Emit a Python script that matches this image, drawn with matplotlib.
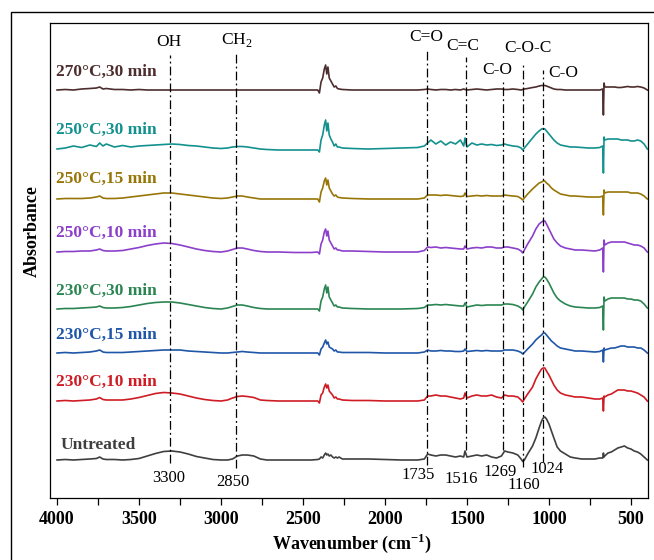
#!/usr/bin/env python3
import numpy as np
import matplotlib
matplotlib.use("Agg")
import matplotlib.pyplot as plt
from matplotlib.patches import Rectangle
from matplotlib.ticker import MultipleLocator

plt.rcParams['font.family'] = ['Liberation Serif', 'DejaVu Serif']
plt.rcParams['mathtext.fontset'] = 'custom'
plt.rcParams['mathtext.rm'] = 'Liberation Serif'
plt.rcParams['mathtext.bf'] = 'Liberation Serif:bold'

# wavenumber grid (cm-1)
wavenumber = [
    4000, 3950, 3900, 3850, 3800, 3760, 3740, 3720, 3700, 3650,
    3600, 3550, 3500, 3450, 3400, 3350, 3300, 3250, 3200, 3150,
    3100, 3050, 3000, 2960, 2930, 2900, 2870, 2840, 2800, 2760,
    2720, 2650, 2550, 2450, 2410, 2400, 2390, 2380, 2370, 2362,
    2355, 2348, 2340, 2330, 2320, 2310, 2300, 2290, 2280, 2260,
    2200, 2100, 2000, 1900, 1800, 1760, 1740, 1720, 1690, 1660,
    1630, 1600, 1570, 1540, 1520, 1512, 1500, 1470, 1440, 1410,
    1380, 1350, 1320, 1290, 1270, 1250, 1220, 1190, 1170, 1160,
    1150, 1130, 1100, 1080, 1060, 1045, 1035, 1025, 1015, 1000,
    985, 970, 950, 930, 900, 870, 840, 800, 760, 720,
    690, 672, 668, 664, 660, 640, 620, 600, 580, 560,
    540, 520, 500, 480, 460, 440, 420, 400,
]

# absorbance (a.u.), each relative to its own baseline
untreated = [
    0, 0.5, 0, 0.5, 1, 1.5, 3, 1, 0.5, 0.5,
    0, 0.5, 1.5, 4, 6.5, 8.5, 9, 8, 6, 3.5,
    2, 0.5, 0, 0, 1, 4, 5, 5, 4, 1,
    0, 0, 0, 0, 0.5, 1, 3, 2, 5, 7,
    5, 6, 4, 5, 3, 2, 3, 2, 3, 1,
    1, 1, 0.5, 0, 0, 1, 6, 5, 4, 5,
    5, 4, 3, 4, 3, 9, 3, 4, 5, 4,
    5, 3, 2, 4, 9, 8, 7, 5, 1, -1.5,
    0, 6, 14, 22, 32, 39, 42, 43, 41, 36,
    29, 22, 13, 9, 6, 3, 2, 1, 1, 1,
    2, 2, 7, 3, 4, 7, 8, 10, 12, 13,
    14, 12, 11, 9, 8, 6, 3, 0,
]
t230_10 = [
    0, 0.5, 0, 0.5, 1, 2, 3.5, 1.5, 1, 1,
    1, 2, 3.5, 5.5, 7.5, 8.5, 8, 7, 5, 3,
    1.5, 0.5, 0, 1, 3, 4.5, 5, 4.5, 3.5, 1,
    0.5, 0, 0, 0, 0, -2, 6, 8, 14, 17,
    13, 16, 10, 8, 6, 3, 4, 2, 2, 1,
    0.5, 0.5, 0, 0, 0, 1, 5, 5, 6, 5,
    5, 4, 3, 2, 3, 8, 3, 5, 6, 5,
    5, 6, 4, 3, 6, 5, 5, 4, 1, -1,
    2, 7, 14, 22, 28, 32, 33, 33, 30, 26,
    21, 16, 11, 8, 6, 5, 4, 4, 3, 2,
    2, 3, -10, 5, 4, 6, 7, 9, 11, 11,
    11, 10, 10, 9, 8, 6, 4, 0,
]
t230_15 = [
    0, 0.5, 0, 0.5, 1, 2, 3, 1, 0.5, 0.5,
    0.5, 1, 1.5, 2, 2.5, 3, 3, 3, 2, 1.5,
    1, 0.5, 0, 0, 0.5, 1, 1.5, 1, 0.5, 0,
    0, 0, 0, 0, 0, -2, 4, 6, 10, 13,
    9, 11, 6, 5, 4, 2, 3, 1, 1, 0.5,
    0.5, 0.5, 0, 0, 0, 1, 3, 2, 2, 2.5,
    2, 2, 1.5, 1.5, 2, 4, 1.5, 2, 2.5, 2,
    2.5, 2, 2, 2, 3, 3, 3, 2, 0.5, -1,
    0.5, 4, 9, 13, 16, 18, 20, 20, 18, 15,
    12, 10, 7, 5, 4, 3, 2, 2, 1.5, 1,
    1.5, 3, -9, 5, 3, 4, 5, 5, 6, 7,
    7, 6, 6, 6, 5, 5, 3, 0,
]
t230_30 = [
    0, 0.5, 0.5, 1, 1.5, 2, 3, 1.5, 1, 1,
    1.5, 2.5, 4, 5.5, 6.5, 7, 7, 6, 4.5, 3,
    1.5, 0.5, 0, 1, 2.5, 4, 4, 3, 1.5, 0.5,
    0, 0, 0, 0, 0, -2, 8, 12, 20, 24,
    16, 22, 12, 9, 6, 3, 4, 2, 2, 1,
    0.5, 0, 0, 0, 0.5, 1.5, 4, 4, 4.5, 4,
    4.5, 4, 3.5, 3, 3, 6, 2, 3, 4, 3.5,
    4, 4, 4, 4, 5, 5, 4.5, 3, 1, -1,
    2, 7, 15, 22, 27, 30, 32, 32, 30, 26,
    21, 16, 11, 8, 5, 3, 2, 1.5, 1, 1,
    1.5, 3, -21, 12, 8, 10, 11, 11, 11, 11,
    11, 10, 10, 9, 9, 8, 5, 1,
]
t250_10 = [
    0, 0.5, 0.5, 1, 1, 2, 3, 1.5, 1, 1,
    1.5, 3, 4.5, 6.5, 8, 9, 8.5, 7, 5, 3,
    1.5, 0.5, 0, 1, 2.5, 4, 4, 3, 1.5, 0.5,
    0, 0, -0.5, -0.5, 0, -2, 8, 12, 20, 23,
    16, 21, 12, 9, 6, 3, 4, 2, 2, 1,
    1, 0.5, 0, 0, 0, 1.5, 5, 4.5, 5, 4,
    4.5, 4, 3.5, 3, 3, 6, 3, 4, 4.5, 4,
    5, 5, 4, 4, 5, 5, 4, 3, 1, -1,
    2, 8, 16, 23, 28, 30, 31, 31, 28, 23,
    18, 13, 9, 6, 4, 3, 2, 2, 1.5, 1,
    2, 4, -20, 12, 7, 9, 10, 10, 10, 10,
    10, 9, 8, 7, 7, 6, 4, 0,
]
t250_15 = [
    0, 0.5, 0.5, 0.5, 1, 2, 3, 1, 0.5, 0.5,
    1, 2, 3, 4, 5, 6, 6, 5, 4, 3,
    2, 1, 0.5, 1, 2, 3, 3, 2, 1, 0,
    0, 0, 0, 0, 0, -3, 7, 11, 18, 21,
    14, 19, 11, 8, 5, 3, 4, 2, 1.5, 1,
    0.5, 0, 0, 0, 0, 1, 4, 4, 4, 3.5,
    4, 3.5, 3, 2.5, 3, 6, 2.5, 3, 3.5, 3,
    3.5, 3, 3, 3, 4, 3.5, 3, 2.5, 0.5, -1,
    1, 5, 10, 13, 16, 17, 18, 18, 16, 14,
    11, 9, 7, 5, 4, 3, 3, 2.5, 2, 2,
    2, 3, -16, 9, 6, 7, 7, 7, 7, 7,
    7, 7, 6, 6, 6, 5, 3, 0,
]
t250_30 = [
    0, 1, 3, 1.5, 4, 2.5, 6, 3, 5, 2,
    3.5, 2, 3, 3.5, 4, 4.5, 5, 4.5, 3.5, 3,
    2, 1, 0.5, 1, 2, 2.5, 2.5, 2, 1, 0,
    -0.5, -1, -1, -1, -1, -3, 9, 14, 24, 29,
    18, 26, 14, 10, 7, 3, 5, 2, 2, 1,
    0.5, 0, 0.5, 1, 1.5, 3, 6, 9, 5, 8,
    4, 7, 5, 9, 3, 11, 2, 6, 4, 5,
    4, 4.5, 3.5, 4, 5, 4, 3, 2.5, 1, -1,
    1, 5, 11, 15, 18, 20, 20.5, 20, 18, 15,
    12, 9, 6, 4, 3, 2, 2, 1.5, 1, 1,
    1.5, 3, -24, 12, 9, 10, 10, 10, 10, 9,
    9, 9, 8, 8, 9, 8, 5, 0,
]
t270_30 = [
    0, 0.5, 0, 1, 1.5, 2, 3, 1, 1.5, 0.5,
    0.5, 0, 0.5, 0, 0, 0, 0, 0, 0, 0,
    0, 0, 0, 0, 0, 0, 0, 0, 0, 0,
    0, 0, 0, 0, 0, -3, 8, 12, 21, 25,
    16, 23, 12, 9, 6, 3, 4, 1.5, 1, 0.5,
    0, 0, 0, 0, 0, 0.5, 1, 0.5, 0, 0.5,
    0.5, 0, 0.5, 0, 1, 0.5, 0, 0.5, 1, 0.5,
    0, 0.5, 1, 1, 0.5, 0.5, 1, 0.5, 0, 0.5,
    1, 1.5, 2.5, 3, 4, 4.5, 4.5, 4.5, 4, 3,
    2, 1, 0.5, 0.5, 0, 0, 0, 0, 0, 0,
    0, 1, -25, 7, 3, 3, 3, 3, 2.5, 2.5,
    3, 3.5, 3, 3, 3.5, 3, 2, 0,
]

labels = ['Untreated', '230°C,10 min', '230°C,15 min', '230°C,30 min',
          '250°C,10 min', '250°C,15 min', '250°C,30 min', '270°C,30 min']
spectra = [untreated, t230_10, t230_15, t230_30, t250_10, t250_15, t250_30, t270_30]

# band assignments: (drawn position, label, number)
band_pos = [3311, 2909, 1744, 1506, 1280, 1159, 1037]
band_names = ['OH', 'CH$_{2}$', 'C=O', 'C=C', 'C-O', 'C-O-C', 'C-O']
band_nums = ['3300', '2850', '1735', '1516', '1269', '1160', '1024']

# layout (stack offsets, colours, label positions)
offsets = [38, 97, 145, 189, 246, 299, 349, 408]
colors = ['#3f3f3f', '#cf1c24', '#1f56a8', '#2b8552', '#8b3fca', '#977607', '#13918e', '#4d2d2d']
label_y = [49, 112, 159, 203, 261, 315, 364, 422]
label_x = [3976, 4006, 4006, 4006, 4006, 4006, 4006, 4006]

line_bot = [35, 30, 33, 48, 48, 31, 36]
line_top = [443, 446, 449, 441, 416, 436, 428]
name_xy = [(3315, 456, 'center'), (2905, 458, 'center'), (1750, 461, 'center'),
           (1524, 452, 'center'), (1317, 428, 'center'), (1128, 450, 'center'),
           (1006, 425, 'left')]
num_xy = [(3317, 20), (2930, 16), (1799, 23), (1537, 19), (1299, 26), (1152, 13), (1012, 29)]

fig = plt.figure(figsize=(6.54, 5.6), dpi=100)
ax = fig.add_axes([50 / 654, 1 - 498 / 560, 598 / 654, 475 / 560])

# outer frame
fig.patches.append(Rectangle((11 / 654, -0.2), 1.2, 1.2 - 12 / 560,
                             transform=fig.transFigure, fill=False,
                             edgecolor='black', linewidth=1.0))

W = np.array(wavenumber)
for vals, off, c in zip(spectra, offsets, colors):
    ax.plot(W, np.array(vals) + off, color=c, lw=1.2, solid_joinstyle='round')

for lab, c, x, y in zip(labels, colors, label_x, label_y):
    ax.text(x, y, lab, color=c, fontsize=12.5, fontweight='bold',
            ha='left', va='baseline')

for p, b, t in zip(band_pos, line_bot, line_top):
    ax.plot([p, p], [b, t], color='black', lw=0.9,
            linestyle=(0, (7, 2.5, 1.5, 2.5)))

for (x, y, ha), nm in zip(name_xy, band_names):
    ax.text(x, y, nm, fontsize=12.5, ha=ha, va='center')
for (x, y), nm in zip(num_xy, band_nums):
    ax.text(x, y, nm, fontsize=12, ha='center', va='center')

ax.set_xlim(4043, 396)
ax.set_ylim(0, 475)
ax.xaxis.set_major_locator(MultipleLocator(500))
ax.xaxis.set_minor_locator(MultipleLocator(250))
ax.tick_params(axis='x', which='both', direction='out', length=5, width=0.9, pad=4,
               labelsize=13)
ax.tick_params(axis='y', left=False, labelleft=False)
for lab in ax.get_xticklabels():
    lab.set_fontweight('bold')
for s in ax.spines.values():
    s.set_linewidth(0.9)

fig.text(352 / 654, 1 - 543 / 560, r'Wavenumber (cm$^{\mathbf{-1}}$)', fontsize=13,
         fontweight='bold', ha='center', va='center')
fig.text(32 / 654, 1 - 231 / 560, 'Absorbance', fontsize=13, fontweight='bold',
         rotation=90, ha='center', va='center')

fig.savefig('out.png', dpi=100)
